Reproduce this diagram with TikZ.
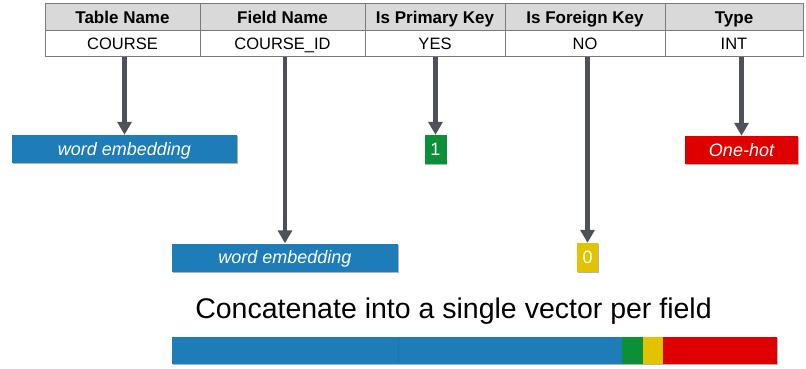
\documentclass[tikz,border=0pt]{standalone}
\usepackage{fontspec}
\setmainfont{Liberation Sans}
\usetikzlibrary{positioning,arrows.meta,calc,shadows}
\definecolor{gridgray}{HTML}{7A7A7A}
\definecolor{headgray}{HTML}{D9D9D9}
\definecolor{arrowgray}{HTML}{4E5159}
\definecolor{embblue}{HTML}{1E7DB8}
\definecolor{keygreen}{HTML}{0B9039}
\definecolor{keyyellow}{HTML}{E2C300}
\definecolor{hotred}{HTML}{DE0000}

\tikzset{
  capcenter/.style={text height=#1, text depth=0pt},
  hcell/.style={draw=gridgray, fill=headgray, line width=0.8pt, minimum height=27pt,
    inner sep=0pt, font=\fontsize{17}{17}\selectfont\bfseries, capcenter=12.2pt},
  dcell/.style={draw=gridgray, fill=white, line width=0.8pt, minimum height=26pt,
    inner sep=0pt, font=\fontsize{16.5}{16.5}\selectfont, capcenter=11.8pt},
  soft shadow/.style={drop shadow={shadow xshift=0.6pt, shadow yshift=-1.2pt, opacity=0.3, fill=black}},
  featbox/.style={fill=#1, text=white, minimum height=28pt, inner sep=0pt,
    font=\fontsize{18}{18}\selectfont\itshape, capcenter=12.9pt, soft shadow},
  bitbox/.style={featbox=#1, font=\fontsize{18}{18}\selectfont},
  feed/.style={arrowgray, line width=4.5pt, -{Triangle[width=14pt,length=13pt]}}
}

\begin{document}
\begin{tikzpicture}[x=1pt, y=-1pt]
  \useasboundingbox (0,0) rectangle (806,368);
  % Header row
  \node[hcell, minimum width=155pt] (h1) at (122.5,17) {Table Name};
  \node[hcell, minimum width=165pt] (h2) at (282.5,17) {Field Name};
  \node[hcell, minimum width=140pt] (h3) at (435,17) {Is Primary Key};
  \node[hcell, minimum width=160pt] (h4) at (585,17) {Is Foreign Key};
  \node[hcell, minimum width=138pt] (h5) at (734,17) {Type};
  % Data row
  \node[dcell, minimum width=155pt] (d1) at (122.5,43.5) {COURSE};
  \node[dcell, minimum width=165pt] (d2) at (282.5,43.5) {COURSE\_ID};
  \node[dcell, minimum width=140pt] (d3) at (435,43.5) {YES};
  \node[dcell, minimum width=160pt] (d4) at (585,43.5) {NO};
  \node[dcell, minimum width=138pt] (d5) at (734,43.5) {INT};
  % Encodings
  \node[featbox=embblue, minimum width=225pt] (emb1) at (124.5,149) {word embedding};
  \node[featbox=embblue, minimum width=226pt] (emb2) at (285,257.5) {word embedding};
  \node[bitbox=keygreen, minimum width=22pt, minimum height=29pt] (pk) at (435.5,149.5) {1};
  \node[bitbox=keyyellow, minimum width=21pt, minimum height=29pt] (fk) at (587.5,257.5) {0};
  \node[featbox=hotred, minimum width=113pt] (hot) at (741.5,150) {One-hot};
  % Arrows
  \draw[feed] (d1.south -| emb1.north) -- (emb1.north);
  \draw[feed] (d2.south -| emb2.north) -- (emb2.north);
  \draw[feed] (d3.south -| pk.north) -- (pk.north);
  \draw[feed] (d4.south -| fk.north) -- (fk.north);
  \draw[feed] (d5.south -| hot.north) -- (hot.north);
  % Concatenated vector
  \node[anchor=base, font=\fontsize{28.5}{28.5}\selectfont, inner sep=0pt] (concat)
    at (453.5,318) {Concatenate into a single vector per field};
  \fill[embblue, soft shadow] (172,337) rectangle (777,364);
  \draw[embblue!85!black, opacity=0.4] (398,337) -- (398,364);
  \fill[keygreen] (622,337) rectangle (643,364);
  \fill[keyyellow] (643,337) rectangle (663,364);
  \fill[hotred] (663,337) rectangle (777,364);
\end{tikzpicture}
\end{document}
